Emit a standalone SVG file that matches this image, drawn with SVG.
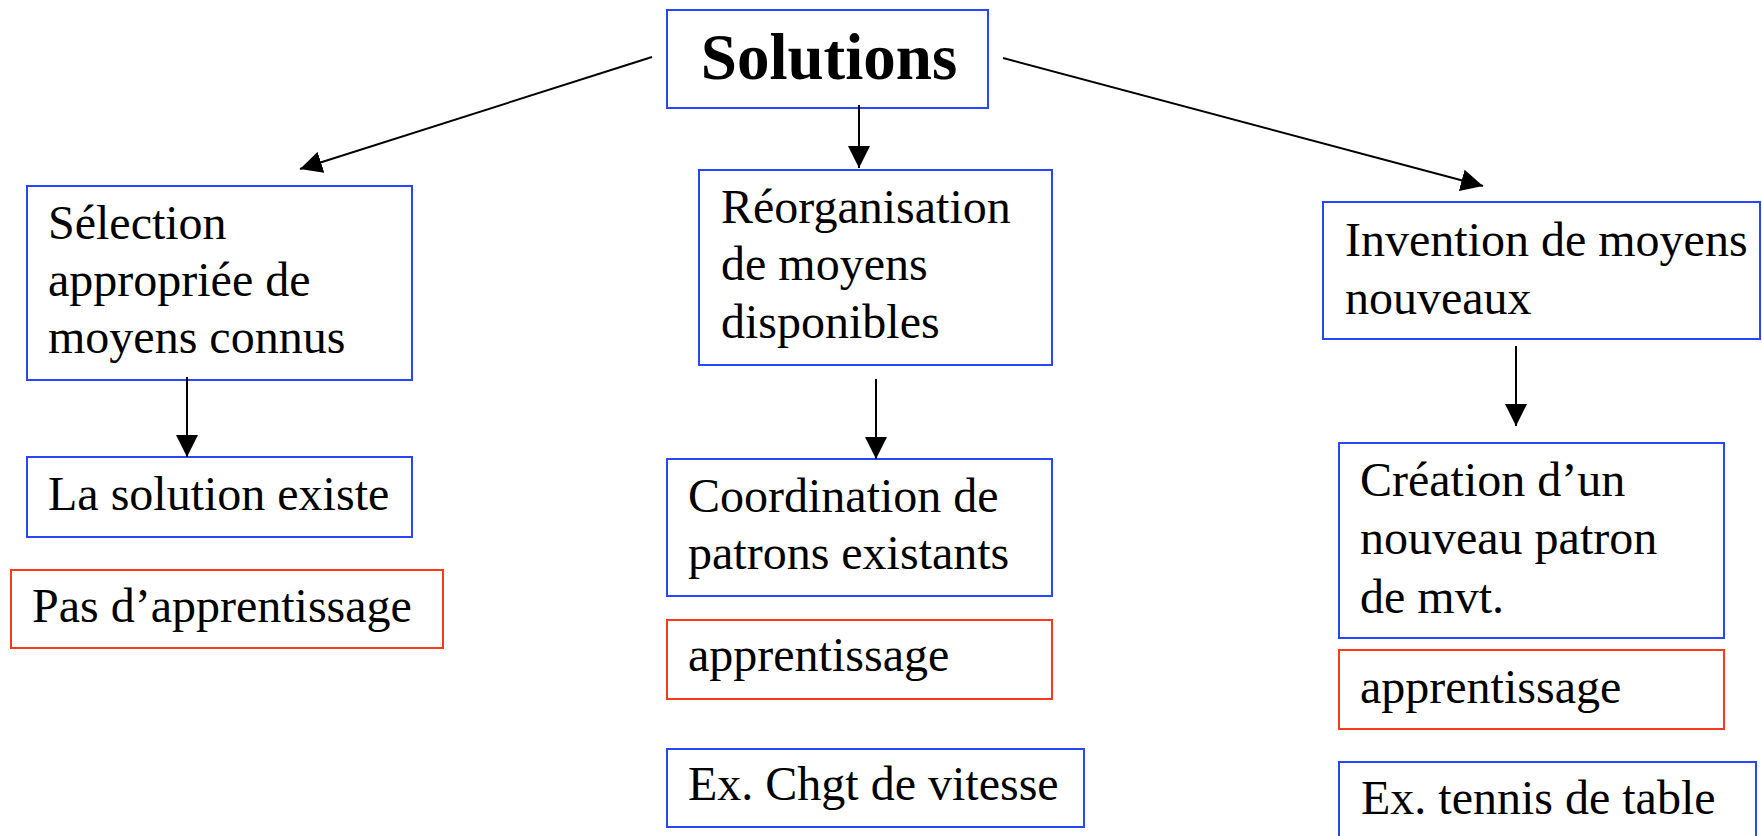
<svg xmlns="http://www.w3.org/2000/svg" width="1762" height="836" viewBox="0 0 1762 836">
  <style>
    .bg { fill: #ffffff; }
    .box { fill: #ffffff; stroke: #2846ff; stroke-width: 2; }
    .box-red { fill: #ffffff; stroke: #ff3a1a; stroke-width: 2; }
    .lbl { font-family: "Liberation Serif", "Times New Roman", serif; font-size: 48px; fill: #000000; }
    .title { font-family: "Liberation Serif", "Times New Roman", serif; font-size: 65px; font-weight: bold; fill: #000000; }
    .conn { stroke: #000000; stroke-width: 2; fill: none; }
  </style>
  <defs>
    <marker id="arrow" markerUnits="userSpaceOnUse" markerWidth="22" markerHeight="22" refX="20" refY="10" orient="auto" viewBox="0 0 20 20">
      <path d="M0,0 L20,10 L0,20 z" fill="#000000"/>
    </marker>
  </defs>

  <rect class="bg" x="0" y="0" width="1762" height="836"/>

  <!-- root -->
  <g id="solutions">
    <rect class="box" x="667" y="10" width="321" height="98"/>
    <text class="title" x="829" y="79" text-anchor="middle">Solutions</text>
  </g>

  <!-- left column -->
  <g id="selection">
    <rect class="box" x="27" y="186" width="385" height="194"/>
    <text class="lbl" x="48" y="239">Sélection</text>
    <text class="lbl" x="48" y="296">appropriée de</text>
    <text class="lbl" x="48" y="353">moyens connus</text>
  </g>
  <g id="solution-existe">
    <rect class="box" x="27" y="457" width="385" height="80"/>
    <text class="lbl" x="48" y="510">La solution existe</text>
  </g>
  <g id="pas-apprentissage">
    <rect class="box-red" x="11" y="570" width="432" height="78"/>
    <text class="lbl" x="32" y="622">Pas d’apprentissage</text>
  </g>

  <!-- middle column -->
  <g id="reorganisation">
    <rect class="box" x="699" y="170" width="353" height="195"/>
    <text class="lbl" x="721" y="223">Réorganisation</text>
    <text class="lbl" x="721" y="280">de moyens</text>
    <text class="lbl" x="721" y="338">disponibles</text>
  </g>
  <g id="coordination">
    <rect class="box" x="667" y="459" width="385" height="137"/>
    <text class="lbl" x="688" y="512">Coordination de</text>
    <text class="lbl" x="688" y="569">patrons existants</text>
  </g>
  <g id="apprentissage-mid">
    <rect class="box-red" x="667" y="620" width="385" height="79"/>
    <text class="lbl" x="688" y="671">apprentissage</text>
  </g>
  <g id="ex-vitesse">
    <rect class="box" x="667" y="749" width="417" height="78"/>
    <text class="lbl" x="688" y="800">Ex. Chgt de vitesse</text>
  </g>

  <!-- right column -->
  <g id="invention">
    <rect class="box" x="1323" y="202" width="437" height="137"/>
    <text class="lbl" x="1345" y="256">Invention de moyens</text>
    <text class="lbl" x="1345" y="314">nouveaux</text>
  </g>
  <g id="creation">
    <rect class="box" x="1339" y="443" width="385" height="195"/>
    <text class="lbl" x="1360" y="496">Création d’un</text>
    <text class="lbl" x="1360" y="554">nouveau patron</text>
    <text class="lbl" x="1360" y="613">de mvt.</text>
  </g>
  <g id="apprentissage-right">
    <rect class="box-red" x="1339" y="650" width="385" height="79"/>
    <text class="lbl" x="1360" y="703">apprentissage</text>
  </g>
  <g id="ex-tennis">
    <rect class="box" x="1339" y="762" width="417" height="90"/>
    <text class="lbl" x="1361" y="814">Ex. tennis de table</text>
  </g>

  <!-- connectors -->
  <g id="connectors">
    <line class="conn" x1="652" y1="57" x2="300" y2="169" marker-end="url(#arrow)"/>
    <line class="conn" x1="859" y1="105" x2="859" y2="168" marker-end="url(#arrow)"/>
    <line class="conn" x1="1003" y1="58" x2="1483" y2="186" marker-end="url(#arrow)"/>
    <line class="conn" x1="187" y1="377" x2="187" y2="457" marker-end="url(#arrow)"/>
    <line class="conn" x1="876" y1="379" x2="876" y2="459" marker-end="url(#arrow)"/>
    <line class="conn" x1="1516" y1="346" x2="1516" y2="426" marker-end="url(#arrow)"/>
  </g>
</svg>
